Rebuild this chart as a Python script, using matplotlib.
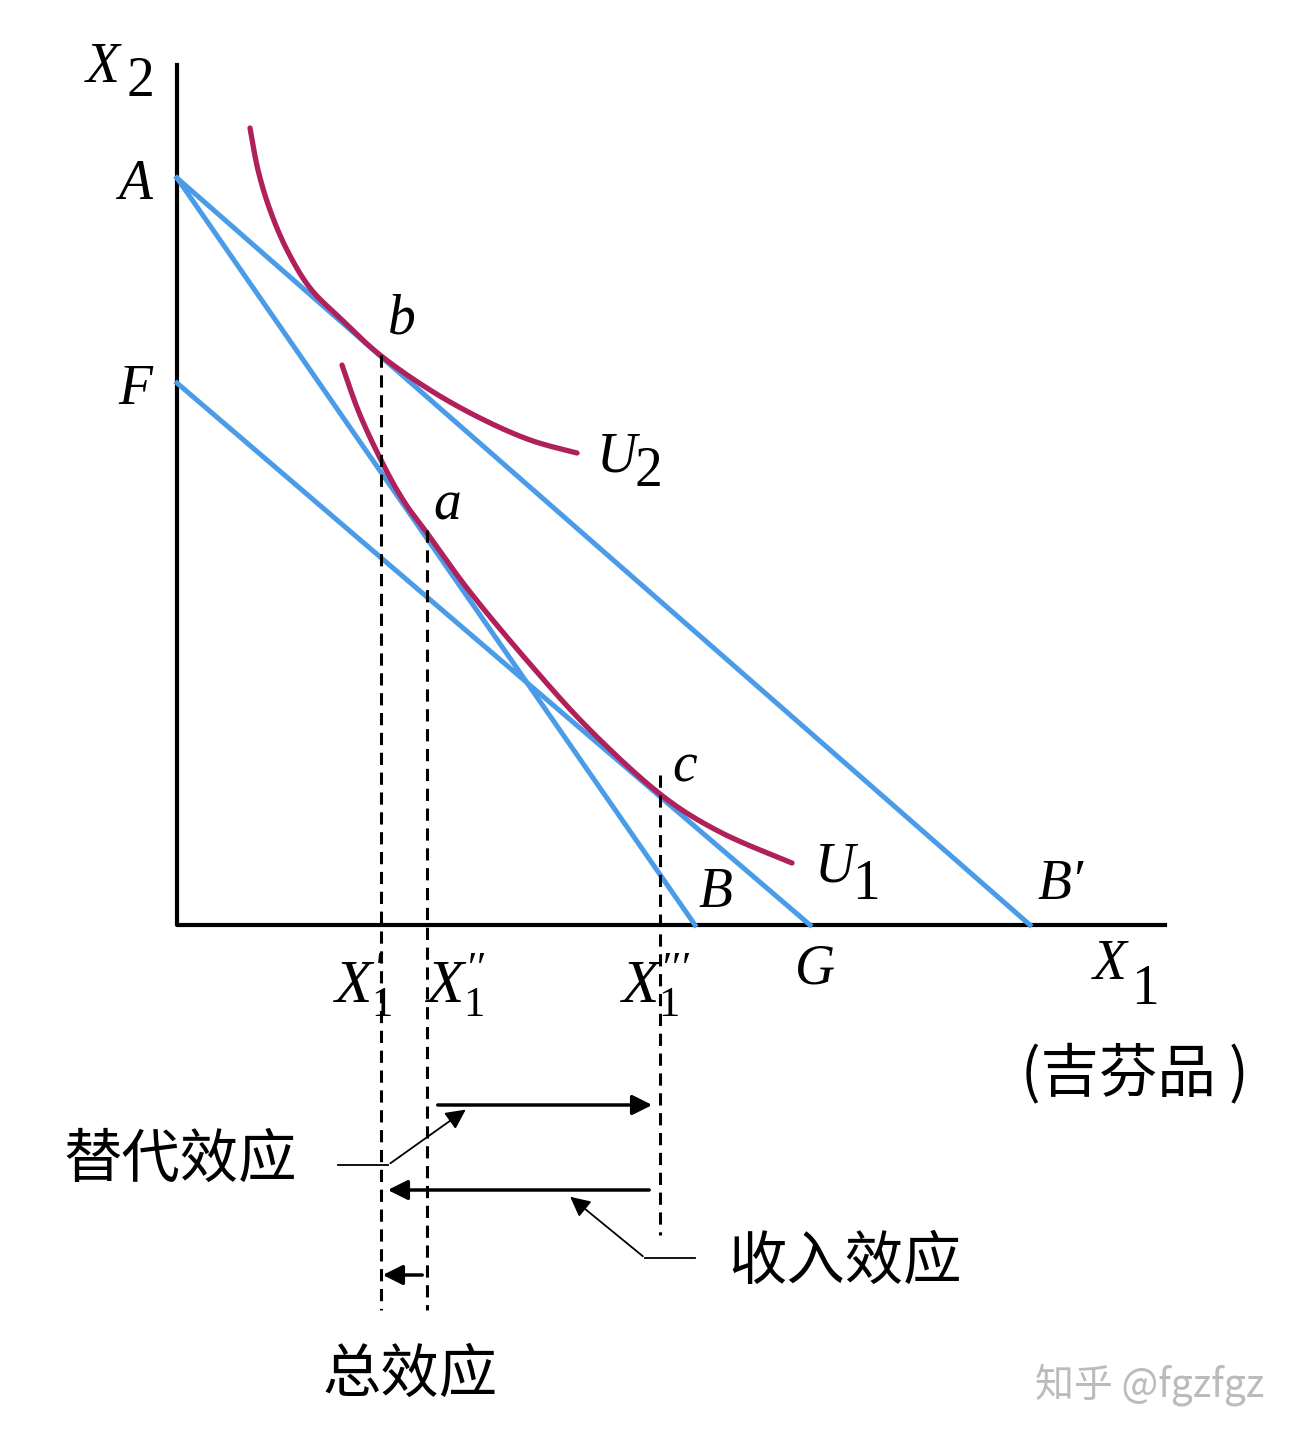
import numpy as np
import matplotlib.pyplot as plt

plt.rcParams['font.family'] = ['Noto Sans CJK SC', 'DejaVu Sans']
plt.rcParams['mathtext.fontset'] = 'custom'
plt.rcParams['mathtext.rm'] = 'Liberation Serif'
plt.rcParams['mathtext.it'] = 'Liberation Serif:italic'

# diagram in picture coordinates (x right, y down)
origin = (177, 925)
axis_top = 65
axis_right = 1165
A = (177, 178)
F = (177, 383)
B = (695, 925)
B2 = (1030, 925)
G = (810, 925)

u2_x = [250, 258, 270, 287, 310, 340, 380, 430, 480, 530, 577]
u2_y = [128, 170, 210, 250, 288, 318, 355, 390, 418, 440, 453]
u1_x = [342, 360, 385, 405, 427, 470, 530, 590, 660, 720, 792]
u1_y = [365, 415, 468, 503, 533, 592, 664, 730, 794, 832, 863]

dash_x = [381, 427, 660]
dash_top = [355, 530, 775]
dash_bot = [1310, 1310, 1235]

BLUE = '#4a9be8'
RED = '#b0205a'


def smooth(xs, ys, n=20):
    p = np.column_stack([xs, ys]).astype(float)
    p = np.vstack([p[0], p, p[-1]])
    out = []
    for i in range(1, len(p) - 2):
        p0, p1, p2, p3 = p[i - 1], p[i], p[i + 1], p[i + 2]
        for t in np.linspace(0, 1, n, endpoint=False):
            out.append(0.5 * ((2 * p1) + (-p0 + p2) * t
                              + (2 * p0 - 5 * p1 + 4 * p2 - p3) * t ** 2
                              + (-p0 + 3 * p1 - 3 * p2 + p3) * t ** 3))
    out.append(p[-2])
    out = np.array(out)
    return out[:, 0], out[:, 1]


fig = plt.figure(figsize=(12.99, 14.41), dpi=100)
ax = fig.add_axes([0, 0, 1, 1])
ax.set_xlim(0, 1299)
ax.set_ylim(1441, 0)
ax.axis('off')

ax.plot([origin[0], origin[0], axis_right], [axis_top, origin[1], origin[1]], color='black', lw=3)

for p, q in [(A, B), (A, B2), (F, G)]:
    ax.plot([p[0], q[0]], [p[1], q[1]], color=BLUE, lw=3.6)

for xs, ys in [(u2_x, u2_y), (u1_x, u1_y)]:
    sx, sy = smooth(xs, ys)
    ax.plot(sx, sy, color=RED, lw=3.8, solid_capstyle='round')

for x, t, b in zip(dash_x, dash_top, dash_bot):
    ax.plot([x, x], [t, b], color='black', lw=2.2, ls=(0, (4, 2.5)))

arr = dict(arrowstyle='-|>', color='black', lw=2.5, mutation_scale=30)
ax.annotate('', xy=(655, 1105), xytext=(435, 1105), arrowprops=arr)
ax.annotate('', xy=(385, 1190), xytext=(652, 1190), arrowprops=arr)
ax.annotate('', xy=(380, 1275), xytext=(425, 1275), arrowprops=arr)
thin = dict(arrowstyle='-|>', color='black', lw=1.3, mutation_scale=30)
ax.plot([338, 388], [1165, 1165], color='black', lw=1.3)
ax.annotate('', xy=(468, 1108), xytext=(388, 1165), arrowprops=thin)
ax.plot([695, 645], [1258, 1258], color='black', lw=1.3)
ax.annotate('', xy=(568, 1195), xytext=(645, 1258), arrowprops=thin)

serif = dict(family='Liberation Serif', fontsize=40, style='italic', va='center', ha='center')
sub = dict(family='Liberation Serif', fontsize=40, va='center', ha='center')
ax.text(103, 68, 'X', **serif); ax.text(140, 82, '2', **sub)
ax.text(135, 185, 'A', **serif)
ax.text(135, 390, 'F', **serif)
ax.text(402, 320, 'b', **serif)
ax.text(447, 505, 'a', **serif)
ax.text(685, 768, 'c', **serif)
ax.text(617, 458, 'U', **serif); ax.text(648, 472, '2', **sub)
ax.text(835, 868, 'U', **serif); ax.text(866, 885, '1', **sub)
ax.text(715, 893, 'B', **serif)
ax.text(1060, 885, "B\u2032", **serif)
ax.text(815, 970, 'G', **serif)
ax.text(1110, 965, 'X', **serif); ax.text(1145, 990, '1', **sub)
xlabels = [r'$X_1^{\prime}$', r'$X_1^{\prime\prime}$', r'$X_1^{\prime\prime\prime}$']
for x, s in zip([362, 455, 655], xlabels):
    ax.text(x, 985, s, fontsize=44, va='center', ha='center')

cjk = dict(fontsize=42, va='center', ha='center')
ax.text(1135, 1075, '(吉芬品 )', **cjk)
ax.text(180, 1160, '替代效应', **cjk)
ax.text(845, 1262, '收入效应', **cjk)
ax.text(410, 1375, '总效应', **cjk)
ax.text(1150, 1385, '知乎 @fgzfgz', fontsize=28, color='#bbbbbb', va='center', ha='center')

fig.savefig('out.png', dpi=100)
